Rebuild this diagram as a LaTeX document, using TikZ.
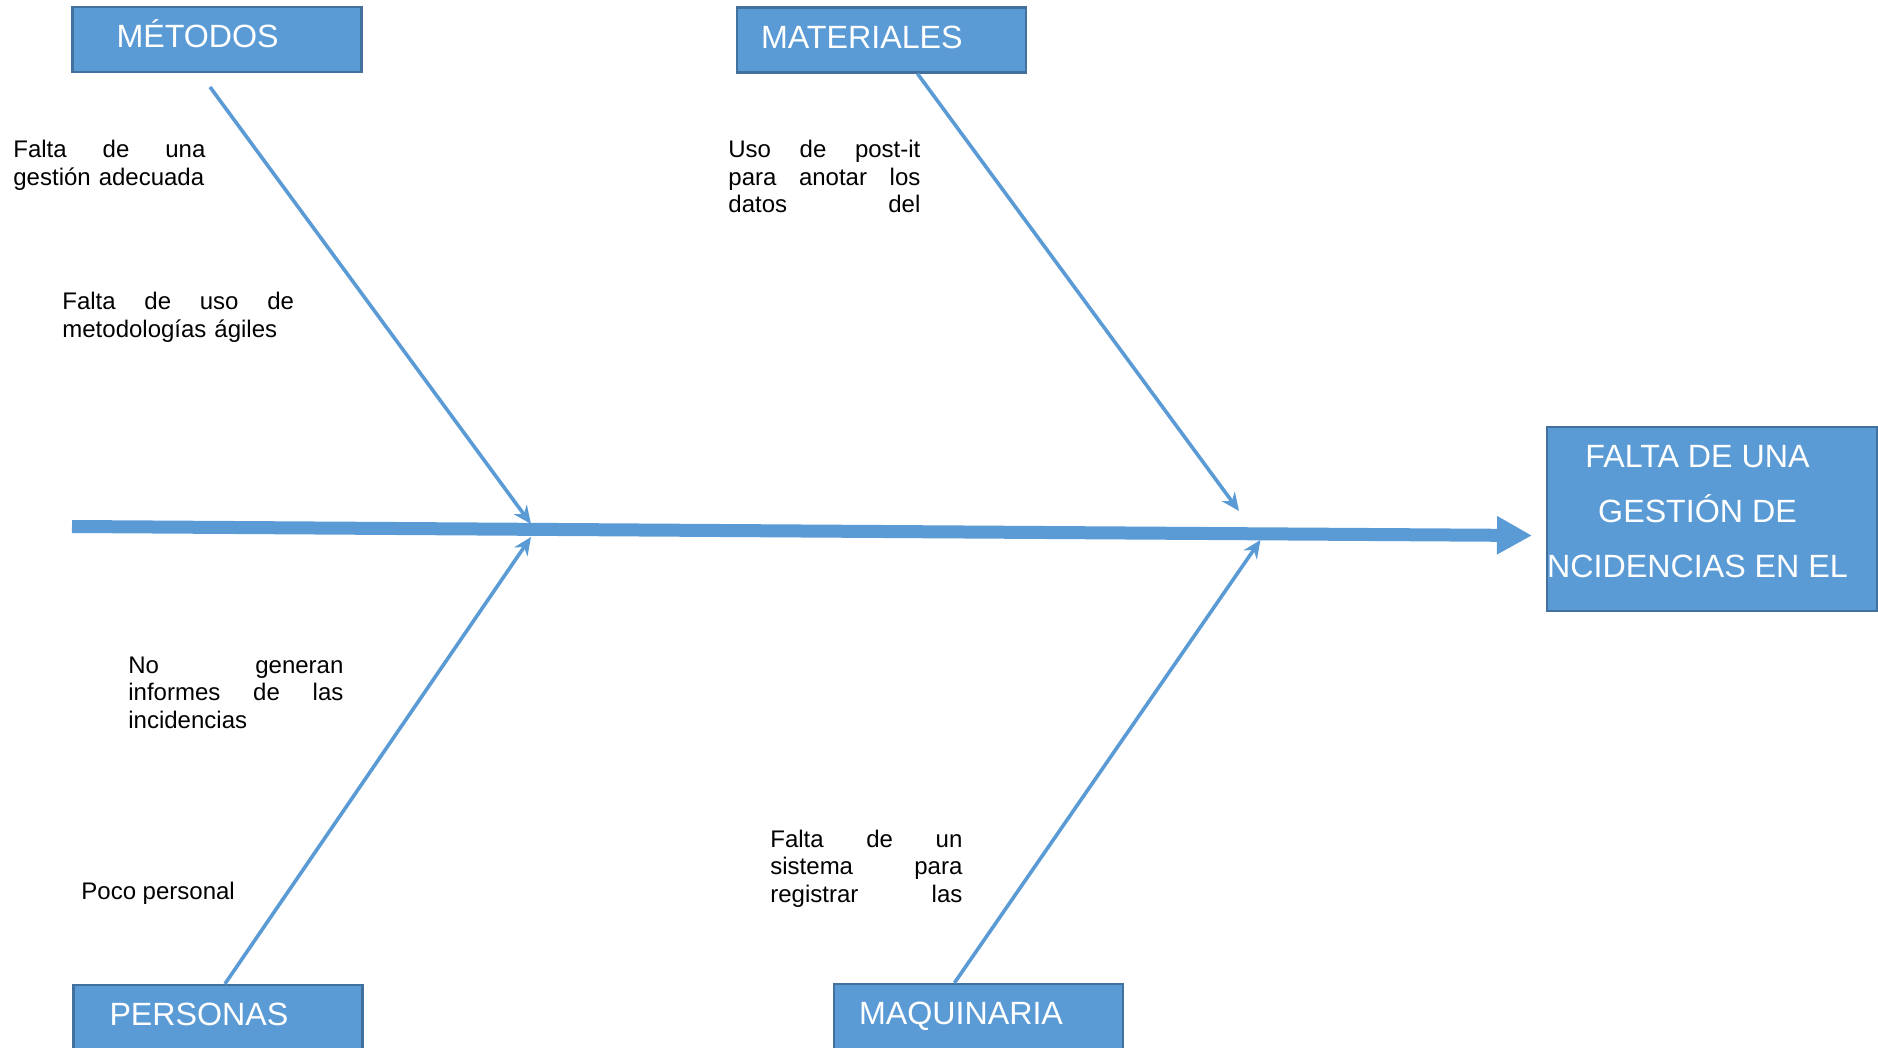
\documentclass[tikz,border=0pt]{standalone}
\usepackage{fontspec}
\setmainfont{Liberation Sans}
\usepackage{xcolor}
\usetikzlibrary{arrows.meta,positioning}
\definecolor{azul}{HTML}{5B9BD5}
\definecolor{azulborde}{HTML}{41719C}

\begin{document}
\begin{tikzpicture}[
  x=0.5pt, y=-0.5pt,
  catbox/.style={draw=azulborde, fill=azul, line width=1.2pt, text=white,
    inner sep=0pt, text width=144.5pt, minimum height=32.5pt, align=left,
    text height=11.4pt, text depth=3pt, font=\fontsize{16.1}{19}\selectfont},
  effbox/.style={draw=azulborde, fill=azul, line width=1.2pt, inner sep=0pt,
    minimum width=164.85pt, minimum height=92pt},
  efftext/.style={text=white, inner sep=0pt, align=center,
    font=\fontsize{16.1}{27.5}\selectfont},
  causa/.style={inner sep=0pt, anchor=north west, align=left,
    font=\fontsize{12}{13.8}\selectfont},
  espina/.style={draw=azul, line width=6.5pt, -{Triangle[length=17.5pt,width=18pt]}},
  rama/.style={draw=azul, line width=1.8pt, -{Stealth[length=9pt,width=8pt]}}
]
  \useasboundingbox (0,0) rectangle (1878,1048);
  \clip (0,0) rectangle (1878,1048);

  % spine and the four branches
  \coordinate (cola) at (72,526.5);
  \coordinate (punta) at (1532,535.5);
  \draw[espina] (cola) -- (punta);

  \node[catbox] (metodos) at (217,39.5) {\hspace*{22pt}MÉTODOS};
  \node[catbox] (materiales) at (881.5,40) {\hspace*{12pt}MATERIALES};
  \node[catbox] (personas) at (218,1017.5) {\hspace*{18pt}PERSONAS};
  \node[catbox] (maquinaria) at (978.5,1016.5) {\hspace*{12.5pt}MAQUINARIA};

  \coordinate (metA) at (210,87);
  \coordinate (metB) at (531,524);
  \coordinate (matB) at (1239,511);
  \coordinate (perB) at (531,537);
  \coordinate (maqB) at (1260.5,540);
  \draw[rama] (metA) -- (metB);
  \draw[rama] ([xshift=18pt]materiales.south) -- (matB);
  \draw[rama] ([xshift=3.5pt]personas.north) -- (perB);
  \draw[rama] ([xshift=-12pt]maquinaria.north) -- (maqB);

  % effect
  \node[effbox] (efecto) at (1711.85,519) {};
  \node[efftext] (efectotxt) at (1697.5,511.7) {FALTA DE UNA\\GESTIÓN DE\\NCIDENCIAS EN EL};

  % causes
  \node[causa, text width=96pt] (c1) at (13,139.8) {Falta\hfill de\hfill una\\\mbox{gestión adecuada}};
  \node[causa, text width=115.8pt] (c2) at (62,292) {Falta\hfill de\hfill uso\hfill de\\\mbox{metodologías ágiles}};
  \node[causa, text width=96pt] (c3) at (728,139.8) {Uso\hfill de\hfill post-it\\para\hfill anotar\hfill los\\datos\hfill del};
  \node[causa, text width=107.5pt] (c4) at (128,656.4) {No\hfill generan\\informes\hfill de\hfill las\\incidencias};
  \node[causa] (c5) at (81,881.4) {Poco personal};
  \node[causa, text width=96pt] (c6) at (770,829.5) {Falta\hfill de\hfill un\\sistema\hfill para\\registrar\hfill las};
\end{tikzpicture}
\end{document}
